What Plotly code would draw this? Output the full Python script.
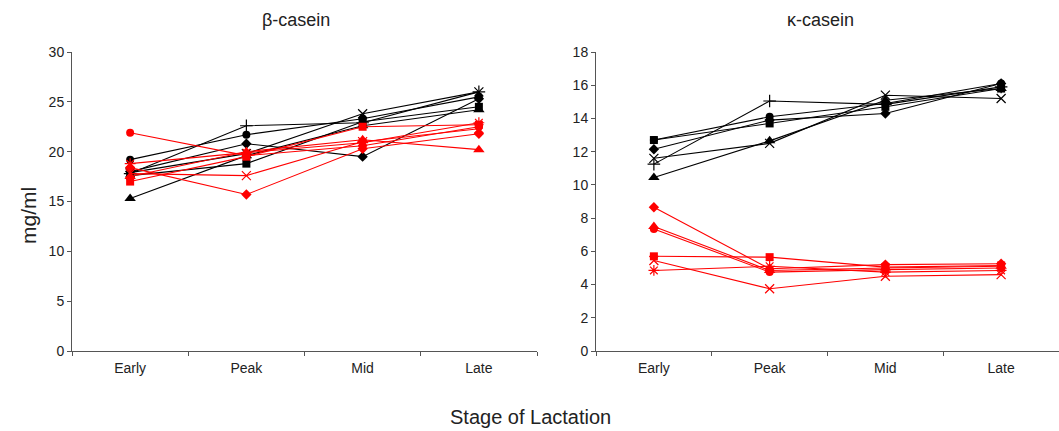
import plotly.graph_objects as go

stages = ["Early", "Peak", "Mid", "Late"]

# beta-casein (left panel), mg/ml
beta_black_circle   = [19.2, 21.7, 23.3, 25.5]
beta_black_triangle = [15.3, 19.6, 22.6, 24.2]
beta_black_plus     = [17.8, 22.6, 22.9, 26.0]
beta_black_diamond  = [18.0, 20.8, 19.5, 25.3]
beta_black_square   = [17.6, 18.8, 23.0, 24.5]
beta_black_x        = [17.9, 19.8, 23.8, 26.0]

beta_red_circle   = [21.9, 19.6, 20.6, 22.5]
beta_red_diamond  = [18.4, 15.7, 20.3, 21.8]
beta_red_x        = [17.8, 17.6, 21.0, 22.3]
beta_red_square   = [17.0, 19.5, 22.5, 22.7]
beta_red_triangle = [17.5, 20.0, 21.2, 20.2]
beta_red_asterisk = [18.8, 19.9, 20.9, 22.9]

# kappa-casein (right panel), mg/ml
kappa_black_square   = [12.7, 13.7, 14.7, 15.8]
kappa_black_circle   = [12.7, 14.1, 14.9, 16.1]
kappa_black_diamond  = [12.15, 13.9, 14.3, 16.1]
kappa_black_x        = [11.6, 12.5, 15.4, 15.2]
kappa_black_plus     = [11.25, 15.05, 14.85, 15.9]
kappa_black_triangle = [10.45, 12.65, 15.1, 15.8]

kappa_red_diamond  = [8.65, 4.95, 5.2, 5.25]
kappa_red_triangle = [7.5, 4.85, 5.0, 5.1]
kappa_red_circle   = [7.35, 4.75, 4.9, 5.0]
kappa_red_square   = [5.7, 5.65, 5.05, 5.15]
kappa_red_x        = [5.45, 3.75, 4.5, 4.6]
kappa_red_asterisk = [4.85, 5.1, 4.75, 4.85]

BLACK = "#000000"
RED = "#ff0000"

def add(fig, vals, color, symbol, xa, ya):
    open_sym = symbol in ("x-thin", "cross-thin", "asterisk")
    size = 9 if open_sym else (10 if symbol == "triangle-up" else 8)
    fig.add_trace(go.Scatter(
        x=stages, y=vals, mode="lines+markers",
        xaxis=xa, yaxis=ya, showlegend=False,
        line=dict(color=color, width=1.1),
        marker=dict(symbol=symbol, size=size, color=color,
                    line=dict(color=color, width=1.2 if open_sym else 0)),
    ))

fig = go.Figure()

left = [
    (beta_black_circle, BLACK, "circle"),
    (beta_black_triangle, BLACK, "triangle-up"),
    (beta_black_plus, BLACK, "cross-thin"),
    (beta_black_diamond, BLACK, "diamond"),
    (beta_black_square, BLACK, "square"),
    (beta_black_x, BLACK, "x-thin"),
    (beta_red_circle, RED, "circle"),
    (beta_red_diamond, RED, "diamond"),
    (beta_red_x, RED, "x-thin"),
    (beta_red_square, RED, "square"),
    (beta_red_triangle, RED, "triangle-up"),
    (beta_red_asterisk, RED, "asterisk"),
]
right = [
    (kappa_black_square, BLACK, "square"),
    (kappa_black_circle, BLACK, "circle"),
    (kappa_black_diamond, BLACK, "diamond"),
    (kappa_black_x, BLACK, "x-thin"),
    (kappa_black_plus, BLACK, "cross-thin"),
    (kappa_black_triangle, BLACK, "triangle-up"),
    (kappa_red_diamond, RED, "diamond"),
    (kappa_red_triangle, RED, "triangle-up"),
    (kappa_red_circle, RED, "circle"),
    (kappa_red_square, RED, "square"),
    (kappa_red_x, RED, "x-thin"),
    (kappa_red_asterisk, RED, "asterisk"),
]
for v, c, s in left:
    add(fig, v, c, s, "x", "y")
for v, c, s in right:
    add(fig, v, c, s, "x2", "y2")

W, H = 1059, 431
font = dict(family="Liberation Sans, Arial, sans-serif", color="#222222")
ydom = [(H - 351) / H, (H - 52) / H]

xcommon = dict(type="category", categoryorder="array", categoryarray=stages,
               range=[-0.5, 3.5], showline=True, linecolor="#555555", linewidth=1,
               ticks="outside", tickson="boundaries", ticklen=4, tickcolor="#555555",
               showgrid=False, zeroline=False, tickfont=dict(size=14, **font),
               ticklabelstandoff=4, automargin=False, fixedrange=True)
ycommon = dict(showline=True, linecolor="#555555", linewidth=1, ticks="outside",
               ticklen=4, tickcolor="#555555", showgrid=False, zeroline=False,
               tickfont=dict(size=14, **font), domain=ydom, automargin=False,
               fixedrange=True)

def ann(text, px, py, size, angle=0):
    return dict(text=text, x=px / W, y=(H - py) / H, xref="paper", yref="paper",
                xanchor="center", yanchor="middle", showarrow=False,
                textangle=angle, font=dict(size=size, **font))

fig.update_layout(
    width=W, height=H, autosize=False,
    margin=dict(l=0, r=0, t=0, b=0, pad=0, autoexpand=False),
    paper_bgcolor="white", plot_bgcolor="white",
    font=font,
    xaxis=dict(xcommon, domain=[72 / W, 537 / W], anchor="y"),
    yaxis=dict(ycommon, range=[0, 30], dtick=5, anchor="x"),
    xaxis2=dict(xcommon, domain=[596 / W, 1.0], anchor="y2"),
    yaxis2=dict(ycommon, range=[0, 18], dtick=2, anchor="x2"),
    annotations=[
        ann("β-casein", 296, 20, 18),
        ann("κ-casein", 820, 20, 18),
        ann("Stage of Lactation", 530, 417, 20),
        ann("mg/ml", 28, 216, 21, -90),
    ],
)

fig.write_html("out.html", post_script="document.body.style.margin='0';")
